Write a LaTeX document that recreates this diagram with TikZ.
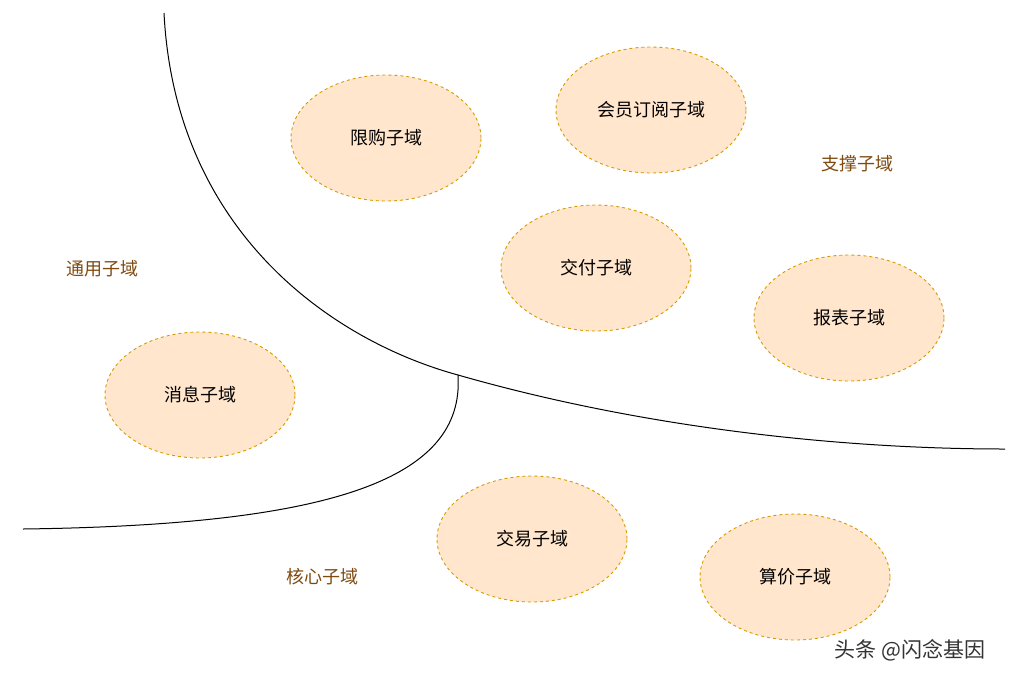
\documentclass[tikz,border=0pt]{standalone}
\usepackage{fontspec}
\setmainfont{Noto Sans CJK SC}
\usetikzlibrary{shapes.geometric}
\definecolor{bord}{HTML}{D79B00}
\definecolor{fil}{HTML}{FFE6CC}
\definecolor{zt}{HTML}{7F4A10}
\begin{document}
\begin{tikzpicture}[x=1pt,y=-1pt,
  dom/.style={ellipse,draw=bord,dashed,fill=fil,line width=0.9pt,minimum width=190pt,minimum height=126pt,font=\fontsize{18}{21}\selectfont},
  zone/.style={text=zt,font=\fontsize{18}{21}\selectfont}]
\useasboundingbox (0,0) rectangle (1024,683);
\node[dom] (xg) at (386,138) {限购子域};
\node[dom] (hy) at (651,110) {会员订阅子域};
\node[dom] (jf) at (596,268) {交付子域};
\node[dom] (bb) at (849,318) {报表子域};
\node[dom] (xx) at (200,395) {消息子域};
\node[dom] (jy) at (532,539) {交易子域};
\node[dom] (sj) at (795,577) {算价子域};
\node[zone] (ty) at (102,269) {通用子域};
\node[zone] (zc) at (857,164) {支撑子域};
\node[zone] (hx) at (322,577) {核心子域};
\node[font=\fontsize{21}{24}\selectfont,text=black!80] (wm) at (910,650) {头条 @闪念基因};
\coordinate (a) at (164,13);
\coordinate (m) at (458,375);
\coordinate (e) at (1005,449);
\coordinate (f) at (23,529);
\draw[line width=1pt] (a) .. controls (175,230) and (330,340) .. (m) .. controls (650,430) and (850,449) .. (e);
\draw[line width=1pt] (m) .. controls (465,480) and (330,525) .. (f);
\end{tikzpicture}
\end{document}
